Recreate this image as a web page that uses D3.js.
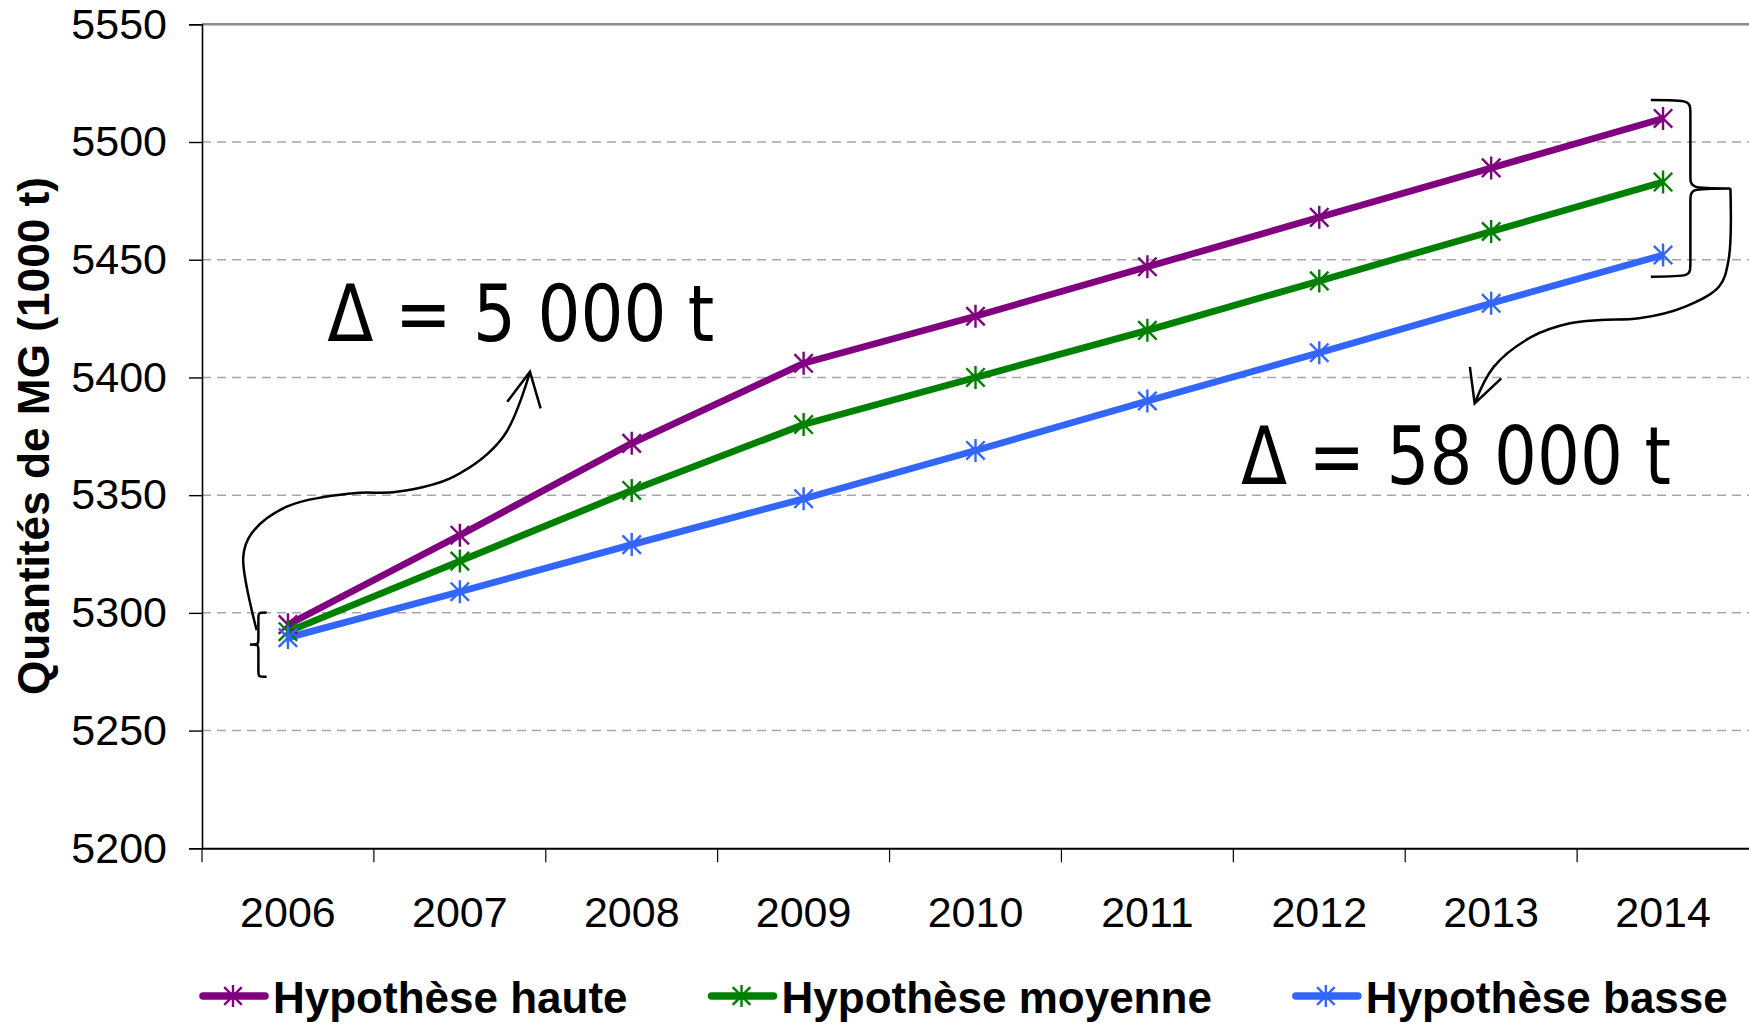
<!DOCTYPE html>
<html>
<head>
<meta charset="utf-8">
<script src="https://cdn.jsdelivr.net/npm/d3@7"></script>
<style>
  body { margin: 0; background: #fff; }
  svg { display: block; }
  text { font-family: Arial, "Liberation Sans", sans-serif; }
</style>
</head>
<body>
<svg id="chart" width="1749" height="1024"></svg>
<script>
// Données (1000 t)
const years = ['2006', '2007', '2008', '2009', '2010', '2011', '2012', '2013', '2014'];
const haute = [5295, 5333, 5372, 5406, 5426, 5447, 5468, 5489, 5510];
const moyenne = [5292, 5322, 5352, 5380, 5400, 5420, 5441, 5462, 5483];
const basse = [5289.5, 5309, 5329, 5348.5, 5369, 5390, 5410.5, 5431.5, 5452];
const yTicks = [5200, 5250, 5300, 5350, 5400, 5450, 5500, 5550];

const seriesNames = ['Hypothèse haute', 'Hypothèse moyenne', 'Hypothèse basse'];
const seriesColors = ['#800080', '#008000', '#3366ff'];
const seriesValues = [haute, moyenne, basse];

const svg = d3.select('#chart');

const x = d3.scaleBand().domain(years).range([202, 1749]);
const y = d3.scaleLinear().domain([5200, 5550]).range([848.3, 24.3]);
const bw = x.bandwidth();
const cx = i => x(years[i]) + bw / 2;

// point d'annotation en unités de bande / valeur
const at = (u, v) => [x.range()[0] + u * bw, y(v)];

// Grille pointillée
svg.append('g')
  .selectAll('line')
  .data(yTicks.filter(d => d > 5200 && d < 5550))
  .enter()
  .append('line')
  .attr('x1', x.range()[0]).attr('x2', x.range()[1])
  .attr('y1', d => y(d)).attr('y2', d => y(d))
  .attr('stroke', '#a6a6a6')
  .attr('stroke-width', 1.5)
  .attr('stroke-dasharray', '9,6');

// bord du graphique
svg.append('line')
  .attr('x1', x.range()[0]).attr('x2', x.range()[1])
  .attr('y1', y(5550)).attr('y2', y(5550))
  .attr('stroke', '#8c8c8c').attr('stroke-width', 2.5);

// Axe Y
const yAxis = svg.append('g')
  .attr('transform', 'translate(' + x.range()[0] + ',0)')
  .call(d3.axisLeft(y).tickValues(yTicks).tickSize(13).tickPadding(22).tickFormat(d3.format('d')));
yAxis.select('.domain').attr('stroke', '#000').attr('stroke-width', 1.6);
yAxis.selectAll('.tick line').attr('stroke', '#000').attr('stroke-width', 1.4);
yAxis.selectAll('text').attr('font-size', 43).attr('fill', '#000').style('font-family', 'Arial, "Liberation Sans", sans-serif');

// Axe X
const xAxis = svg.append('g')
  .attr('transform', 'translate(0,' + y(5200) + ')')
  .call(d3.axisBottom(x).tickSize(0).tickPadding(48));
xAxis.select('.domain').attr('stroke', '#000').attr('stroke-width', 2);
xAxis.selectAll('text').attr('font-size', 43).attr('fill', '#000').style('font-family', 'Arial, "Liberation Sans", sans-serif');
xAxis.selectAll('.xtick')
  .data(years)
  .enter()
  .append('line')
  .attr('class', 'xtick')
  .attr('x1', d => x(d)).attr('x2', d => x(d))
  .attr('y1', 0).attr('y2', 14)
  .attr('stroke', '#000').attr('stroke-width', 1.2);

// Titre axe Y
svg.append('text')
  .attr('transform', 'translate(49,436) rotate(-90)')
  .attr('text-anchor', 'middle')
  .attr('font-size', 44.2)
  .attr('font-weight', 'bold')
  .text('Quantités de MG (1000 t)');

// marqueur étoile
function star(g, color, r) {
  const d = r * 0.8;
  g.append('path')
    .attr('d', `M0,${-r}V${r}M${-d},${-d}L${d},${d}M${-d},${d}L${d},${-d}`)
    .attr('stroke', color)
    .attr('stroke-width', 2.4)
    .attr('fill', 'none');
}

// Lignes
const line = d3.line()
  .x((d, i) => cx(i))
  .y(d => y(d));

seriesValues.forEach((vals, k) => {
  svg.append('path')
    .datum(vals)
    .attr('d', line)
    .attr('fill', 'none')
    .attr('stroke', seriesColors[k])
    .attr('stroke-width', 6.8)
    .attr('stroke-linejoin', 'round');
});

seriesValues.forEach((vals, k) => {
  vals.forEach((v, i) => {
    const g = svg.append('g').attr('transform', 'translate(' + cx(i) + ',' + y(v) + ')');
    star(g, seriesColors[k], 11.5);
  });
});

// Accolades
function brace(xEnd, xSpine, xTip, yTop, yBot, r) {
  const yMid = (yTop + yBot) / 2;
  return `M${xEnd},${yTop}C${xSpine},${yTop} ${xSpine},${yTop} ${xSpine},${yTop + r}` +
    `L${xSpine},${yMid - r}C${xSpine},${yMid} ${xSpine},${yMid} ${xTip},${yMid}` +
    `C${xSpine},${yMid} ${xSpine},${yMid} ${xSpine},${yMid + r}` +
    `L${xSpine},${yBot - r}C${xSpine},${yBot} ${xSpine},${yBot} ${xEnd},${yBot}`;
}

const ann = svg.append('g').attr('fill', 'none').attr('stroke', '#000').attr('stroke-width', 2.5);

// accolade 2006
ann.append('path').attr('d', brace(at(0.376, 0)[0], at(0.328, 0)[0], at(0.279, 0)[0], y(5300.2), y(5272.9), 6));
// accolade 2014
ann.append('path').attr('d', brace(at(8.429, 0)[0], at(8.659, 0)[0], at(8.892, 0)[0], y(5517.8), y(5442.8), 14));

// flèches courbes
const curve = d3.line().curve(d3.curveCatmullRom.alpha(0.5));

const arrowLeft = [[0.318, 5292.7], [0.240, 5323.8], [0.289, 5333.8], [0.493, 5345.1], [0.880, 5350.8],
  [1.133, 5351.4], [1.462, 5357.8], [1.753, 5374.8], [1.908, 5402.4]];
ann.append('path').attr('d', curve(arrowLeft.map(p => at(p[0], p[1]))));
ann.append('path').attr('d', d3.line()([at(1.776, 5389.7), at(1.908, 5402.4), at(1.970, 5386.9)]));

const arrowRight = [[8.892, 5480.3], [8.881, 5449.9], [8.825, 5438.5], [8.626, 5430], [8.360, 5425.1],
  [8.137, 5424.4], [7.958, 5423], [7.737, 5417.3], [7.515, 5404.5], [7.404, 5389]];
ann.append('path').attr('d', curve(arrowRight.map(p => at(p[0], p[1]))));
ann.append('path').attr('d', d3.line()([at(7.376, 5404.5), at(7.404, 5389), at(7.559, 5399.6)]));

// Textes des écarts
const deltaFont = '"Comic Sans MS", "DejaVu Sans", sans-serif';
const t1 = at(0.729, 5415.4);
svg.append('text')
  .attr('x', t1[0]).attr('y', t1[1])
  .attr('font-size', 78)
  .attr('textLength', 387).attr('lengthAdjust', 'spacingAndGlyphs')
  .style('font-family', deltaFont)
  .text('Δ = 5 000 t');
const t2 = at(6.044, 5354.7);
svg.append('text')
  .attr('x', t2[0]).attr('y', t2[1])
  .attr('font-size', 80)
  .attr('textLength', 430).attr('lengthAdjust', 'spacingAndGlyphs')
  .style('font-family', deltaFont)
  .text('Δ = 58 000 t');

// Légende
let lx = 203;
seriesNames.forEach((name, k) => {
  const g = svg.append('g').attr('transform', 'translate(' + lx + ',996)');
  g.append('line')
    .attr('x1', 0).attr('x2', 62)
    .attr('stroke', seriesColors[k])
    .attr('stroke-width', 7.5)
    .attr('stroke-linecap', 'round');
  const m = g.append('g').attr('transform', 'translate(30,0)');
  star(m, seriesColors[k], 11);
  const txt = g.append('text')
    .attr('x', 70).attr('y', 17)
    .attr('font-size', 44)
    .attr('font-weight', 'bold')
    .text(name);
  lx += 70 + txt.node().getComputedTextLength() + 84;
});
</script>
</body>
</html>
